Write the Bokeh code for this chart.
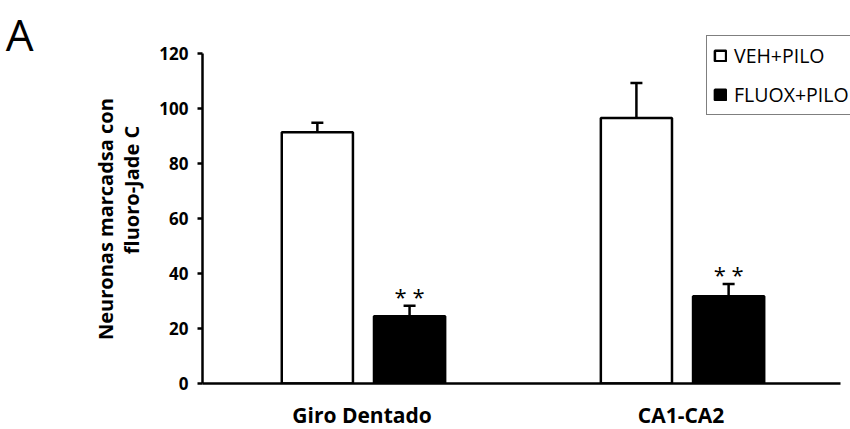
from bokeh.plotting import figure
from bokeh.models import (ColumnDataSource, Range1d, FixedTicker, Whisker, TeeHead,
                          Legend, LegendItem, LinearAxis)
from bokeh.core.properties import value
from bokeh.embed import file_html
from bokeh.resources import INLINE

# ---- data ----
regions = ["Giro Dentado", "CA1-CA2"]
veh_mean = [91.4, 96.6]
veh_err = [3.4, 12.7]
fluox_mean = [24.5, 31.7]
fluox_err = [3.8, 4.5]
signif = ["**", "**"]
y_ticks = [0, 20, 40, 60, 80, 100, 120]
series_names = ["VEH+PILO", "FLUOX+PILO"]
y_label_lines = ["Neuronas marcadsa con", "fluoro-Jade C"]
panel_letter = "A"

FONT = "Open Sans"
Y_TOP = 139.3        # frame reaches the top of the canvas; axis line stops at 120
X_END = 2.031        # frame reaches the right edge of the canvas; axis line stops at 2
OFF_VEH, OFF_FLX, W = -0.14, 0.149, 0.223

centers = [i + 0.5 for i in range(len(regions))]
src = ColumnDataSource(data=dict(
    x_veh=[c + OFF_VEH for c in centers],
    x_flx=[c + OFF_FLX for c in centers],
    veh=veh_mean,
    veh_top=[m + e for m, e in zip(veh_mean, veh_err)],
    fluox=fluox_mean,
    fluox_top=[m + e for m, e in zip(fluox_mean, fluox_err)],
    star_y=[m + e + 3.5 for m, e in zip(fluox_mean, fluox_err)],
    star=[" ".join(s) for s in signif],
))

p = figure(x_range=Range1d(0, X_END), y_range=Range1d(0, Y_TOP),
           width=850, height=429, frame_width=648, frame_height=383,
           min_border_left=202, min_border_right=0, min_border_top=0, min_border_bottom=46,
           output_backend="svg", toolbar_location=None)
p.outline_line_color = None
p.xgrid.grid_line_color = None
p.ygrid.grid_line_color = None
p.background_fill_color = "white"
p.border_fill_color = "white"

r_veh = p.vbar(x="x_veh", top="veh", bottom=0, width=W, source=src,
               fill_color="white", line_color="black", line_width=2.5)
r_flx = p.vbar(x="x_flx", top="fluox", bottom=0, width=W, source=src,
               fill_color="black", line_color="black", line_width=2.5)

for base, lo, hi in (("x_veh", "veh", "veh_top"), ("x_flx", "fluox", "fluox_top")):
    p.add_layout(Whisker(base=base, lower=lo, upper=hi, source=src, dimension="height",
                         line_width=2.5, line_color="black", lower_head=None,
                         upper_head=TeeHead(size=12, line_width=2.5, line_color="black")))

p.text(x="x_flx", y="star_y", text="star", source=src,
       text_font=value(FONT), text_font_size="22px", text_align="center",
       text_baseline="middle", text_color="black")

# axes
yax = p.yaxis[0]
xax = p.xaxis[0]
for ax in (xax, yax):
    ax.axis_line_width = 2.5
    ax.axis_line_color = "black"
    ax.major_label_text_font = FONT
    ax.major_label_text_font_style = "bold"
    ax.major_label_text_color = "black"
    ax.minor_tick_line_color = None

yax.ticker = FixedTicker(ticks=y_ticks)
yax.bounds = (0, 120)
yax.major_tick_line_width = 2.5
yax.major_tick_line_color = "black"
yax.major_tick_out = 5
yax.major_tick_in = 0
yax.major_label_text_font_size = "17px"
yax.major_label_standoff = 9

xax.ticker = FixedTicker(ticks=centers)
xax.major_label_overrides = {c: r for c, r in zip(centers, regions)}
xax.bounds = (0, len(regions))
xax.major_tick_line_color = None
xax.major_label_text_font_size = "21px"
xax.major_label_standoff = 11


def text_axis(text, at, size, standoff, bold=False, vertical=False):
    """An axis without line or ticks, used only to place one text in the left margin."""
    ax = LinearAxis(ticker=FixedTicker(ticks=[at]), major_label_overrides={at: text},
                    axis_line_color=None, major_tick_line_color=None,
                    minor_tick_line_color=None, major_label_text_font=FONT,
                    major_label_text_font_size=size, major_label_text_color="black",
                    major_label_standoff=standoff)
    if bold:
        ax.major_label_text_font_style = "bold"
    if vertical:
        ax.major_label_orientation = "vertical"
    return ax


# y-axis title, two lines, then the panel letter further out
p.add_layout(text_axis(y_label_lines[1], 70.4, "20px", 5, bold=True, vertical=True), "left")
p.add_layout(text_axis(y_label_lines[0], 59.8, "20px", -10, bold=True, vertical=True), "left")
p.add_layout(text_axis(panel_letter, 129.5, "44px", 50), "left")

legend = Legend(items=[LegendItem(label=series_names[0], renderers=[r_veh]),
                       LegendItem(label=series_names[1], renderers=[r_flx])],
                location=(504, 268), orientation="vertical",
                glyph_width=14, glyph_height=13, label_standoff=7,
                label_text_font=FONT, label_text_font_size="19.5px",
                label_text_color="black", label_height=20, spacing=12,
                padding=6, margin=0,
                border_line_color="black", border_line_width=1.5,
                background_fill_color="white", background_fill_alpha=1.0)
p.add_layout(legend, "center")

open("out.html", "w").write(file_html(p, INLINE))
